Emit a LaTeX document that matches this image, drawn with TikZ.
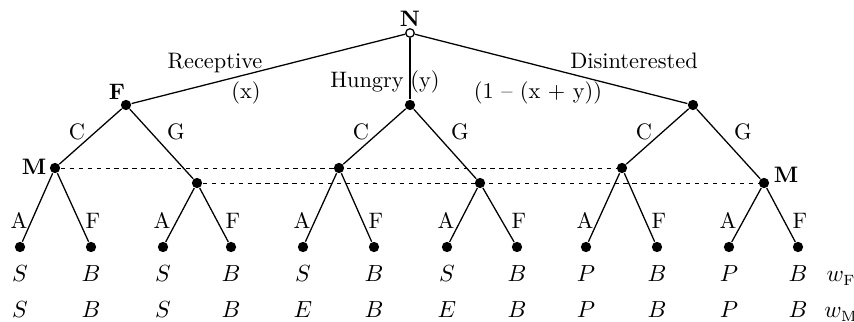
\documentclass[tikz,border=0pt]{standalone}
\usepackage{tikz}

\begin{document}
\begin{tikzpicture}[x=0.0165cm,y=-0.0165cm,
    font=\fontsize{10.5}{12.6}\selectfont,
    dot/.style={circle,fill,inner sep=0pt,minimum size=1.7mm},
    chance/.style={circle,draw,fill=white,inner sep=0pt,minimum size=1.4mm},
    lbl/.style={anchor=base,inner sep=0pt},
    info/.style={thin,dash pattern=on 2pt off 2.2pt},
    every path/.style={semithick}]
      \useasboundingbox (0,0) rectangle (854,322);

      % nature and the three types
      \node[chance] (n) at (410,33) {};
      \node[dot] (f1) at (126,105) {};
      \node[dot] (f2) at (410,105) {};
      \node[dot] (f3) at (693,105) {};
      \draw (n) -- (f1);
      \draw (n) -- (f2);
      \draw (n) -- (f3);

      \node[lbl] (tn) at (410,27) {\textbf{N}};
      \node[lbl] (tf) at (117,100) {\textbf{F}};
      \node[lbl] (trec) at (215,69) {Receptive};
      \node[lbl] (tx) at (246,99) {(x)};
      \node[lbl] (thun) at (367,88) {Hungry};
      \node[lbl] (ty) at (425,88) {(y)};
      \node[lbl] (tdis) at (634,69) {Disinterested};
      \node[lbl] (txy) at (538,99) {(1 -- (x + y))};

      % second movers
      \node[dot] (m1) at (55,168) {};
      \node[dot] (m2) at (197,183) {};
      \node[dot] (m3) at (339,168) {};
      \node[dot] (m4) at (480,183) {};
      \node[dot] (m5) at (622,168) {};
      \node[dot] (m6) at (764,183) {};

      \node[lbl] (tm1) at (34,175) {\textbf{M}};
      \node[lbl] (tm2) at (786,183) {\textbf{M}};

      \foreach \f/\c/\g/\x in {f1/m1/m2/126, f2/m3/m4/410, f3/m5/m6/693} {
        \draw (\f) -- (\c);
        \draw (\f) -- (\g);
        \node[lbl] at (\x-49,140) {C};
        \node[lbl] at (\x+50,140) {G};
      }

      \draw[info] (m1) -- (m5);
      \draw[info] (m2) -- (m6);

      % leaves and payoffs
      \foreach \p/\xa/\xb/\fa/\ma in {m1/20/91/S/S, m2/163/231/S/S, m3/303/374/S/E,
                                      m4/447/517/S/E, m5/586/657/P/P, m6/729/798/P/P} {
        \node[dot] (\p-a) at (\xa,247) {};
        \node[dot] (\p-b) at (\xb,247) {};
        \draw (\p) -- (\p-a);
        \draw (\p) -- (\p-b);
        \node[lbl] at (\xa-1,229) {A};
        \node[lbl] at (\xb+2,229) {F};
        \node[lbl] at (\xa,282) {$\fa$};
        \node[lbl] at (\xb,282) {$B$};
        \node[lbl] at (\xa,318) {$\ma$};
        \node[lbl] at (\xb,318) {$B$};
      }

      \node[lbl] (twf) at (841,282) {$w_{\mathrm{F}}$};
      \node[lbl] (twm) at (841,318) {$w_{\mathrm{M}}$};
    \end{tikzpicture}
\end{document}
